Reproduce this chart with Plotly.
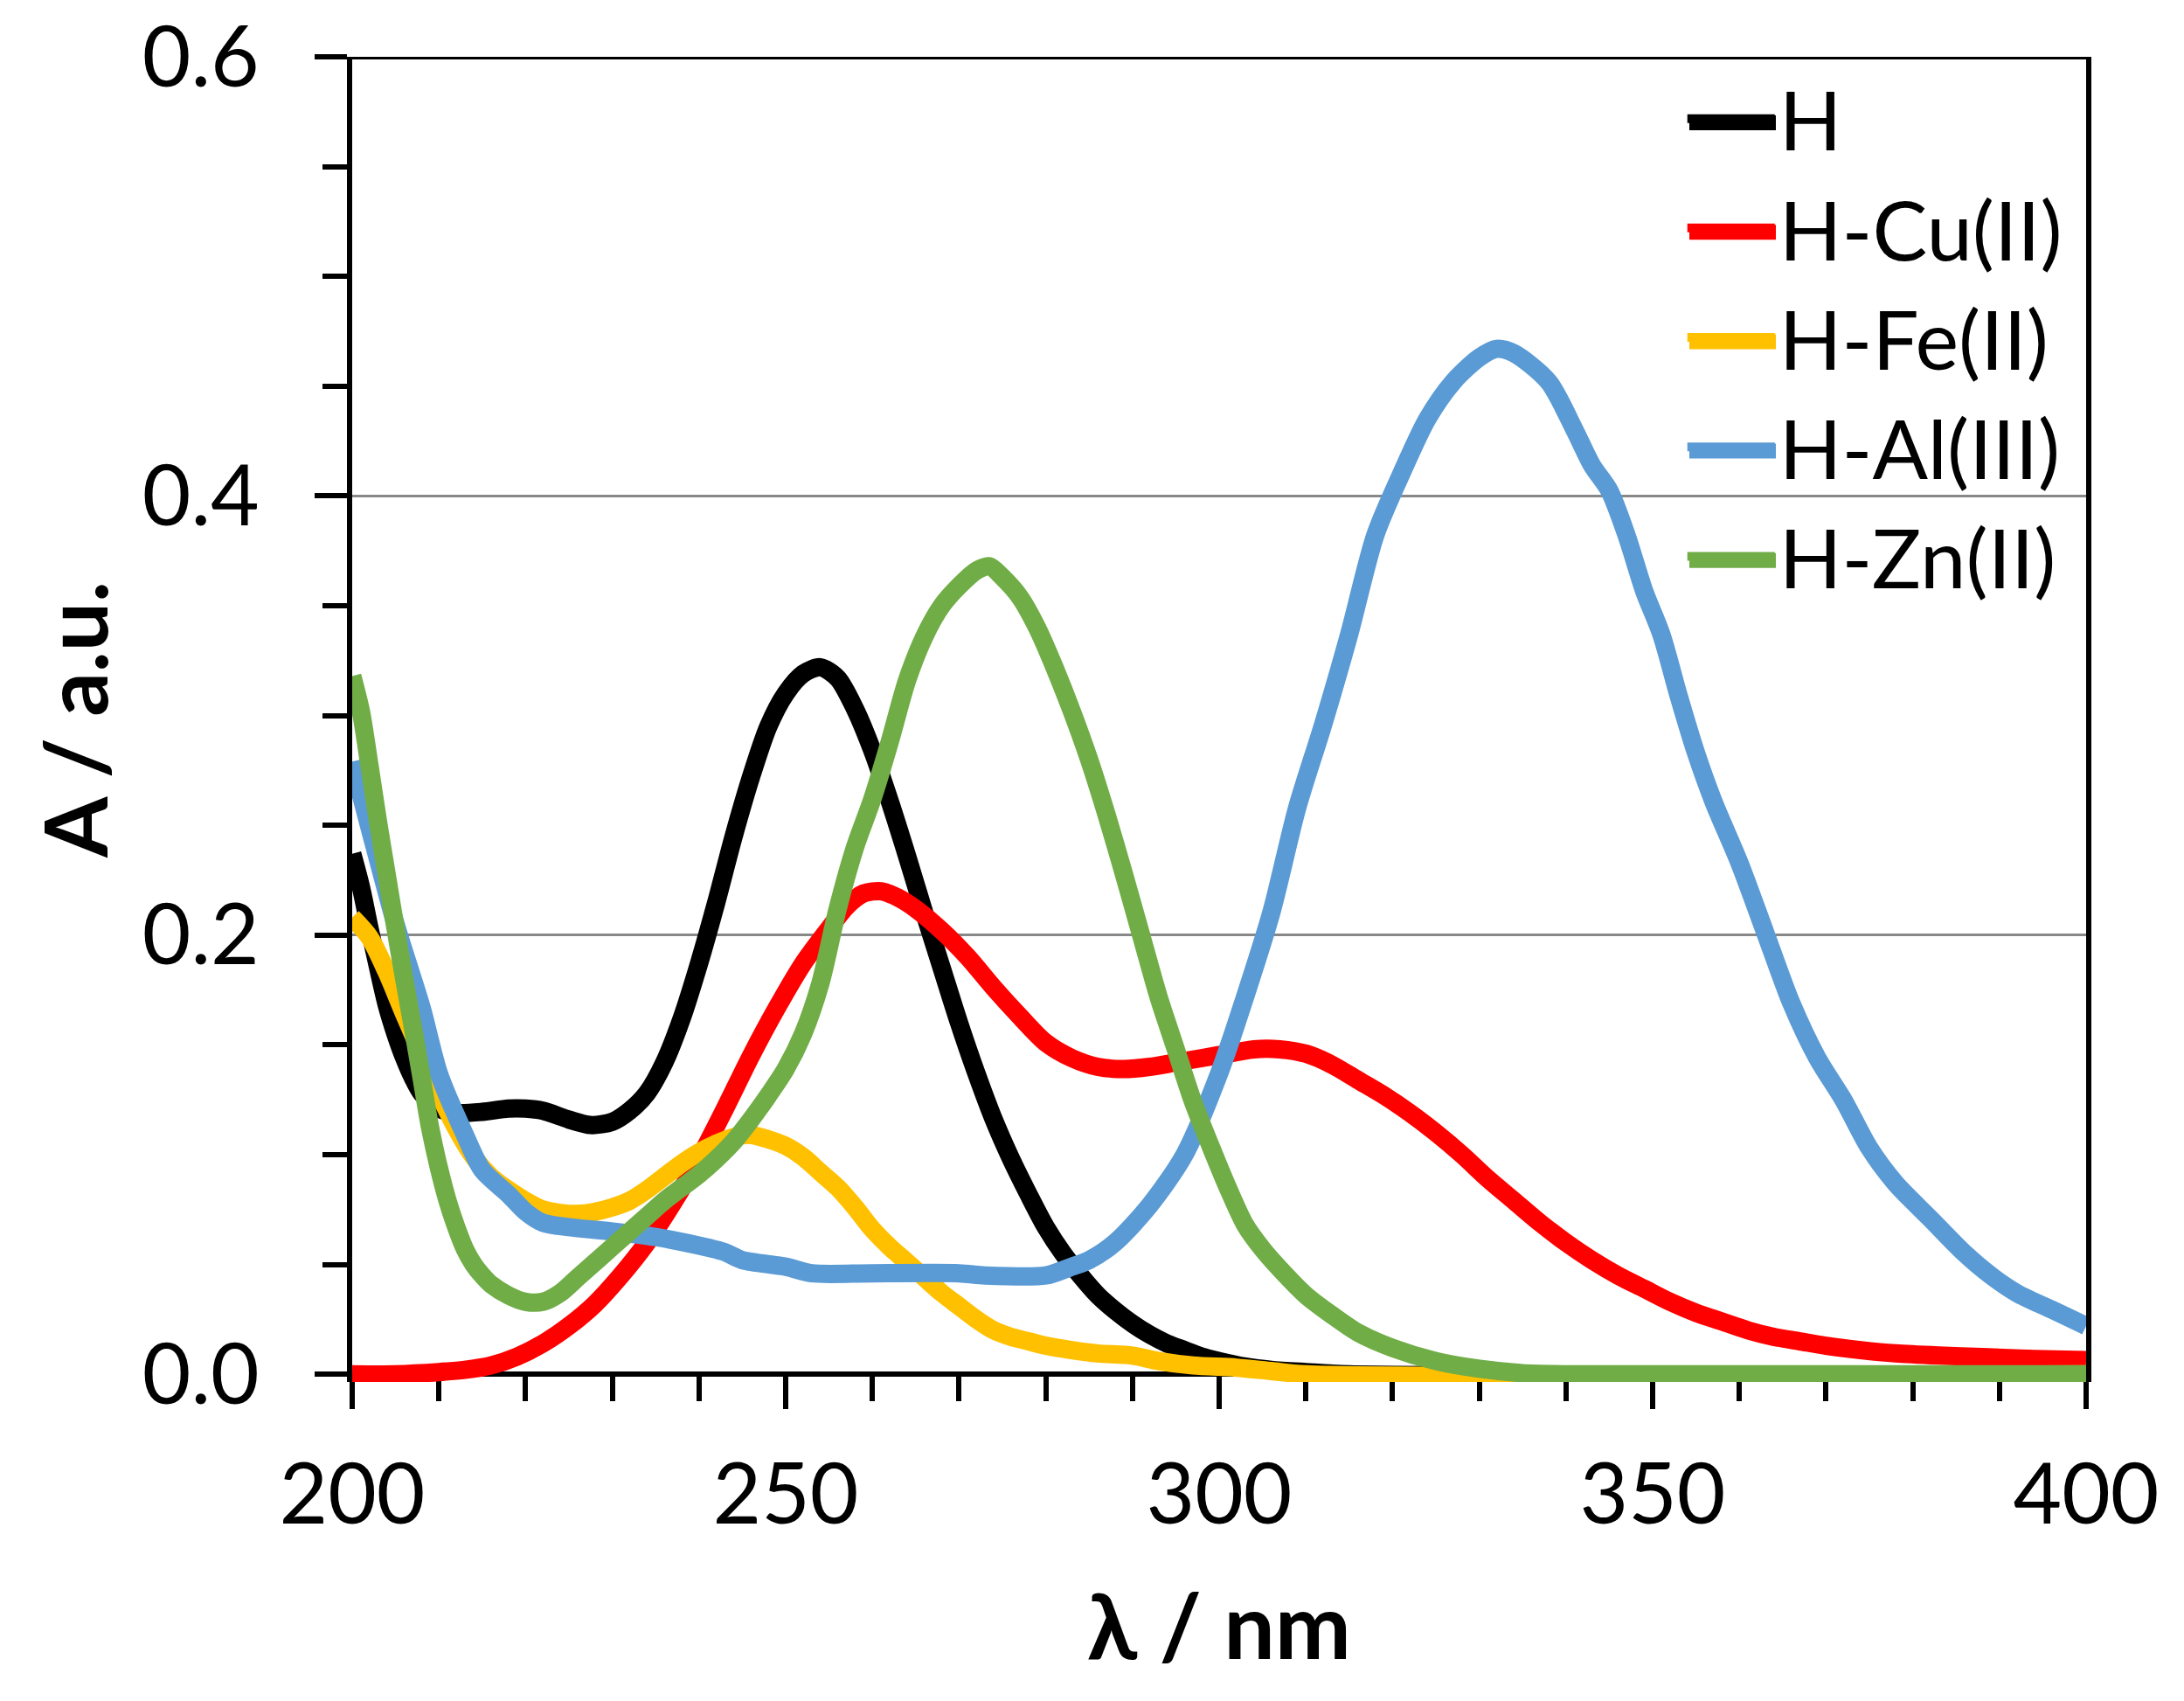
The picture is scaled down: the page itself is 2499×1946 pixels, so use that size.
import plotly.graph_objects as go

# ---------------- data ----------------
h_x = [200, 201, 202, 203, 204, 205, 206, 207, 208, 210, 212, 215, 218, 220, 222, 225, 227.5, 230, 232, 234, 236, 238,
       240, 242, 244, 246, 248, 250, 252, 254, 256, 258, 260, 262, 264, 266, 268, 270, 272, 274, 276, 278, 280, 282,
       284, 286, 288, 290, 292, 294, 296, 298, 300, 303, 306, 310, 315, 400]
h_y = [0.237, 0.222, 0.203, 0.185, 0.168, 0.155, 0.144, 0.135, 0.128, 0.121, 0.119, 0.1195, 0.121, 0.121, 0.12, 0.116,
       0.1135, 0.115, 0.12, 0.128, 0.142, 0.162, 0.187, 0.215, 0.245, 0.272, 0.295, 0.31, 0.319, 0.322, 0.317, 0.303,
       0.284, 0.261, 0.236, 0.21, 0.185, 0.16, 0.137, 0.116, 0.098, 0.082, 0.067, 0.055, 0.045, 0.036, 0.029, 0.023,
       0.018, 0.014, 0.011, 0.008, 0.006, 0.0035, 0.002, 0.001, 0, 0]

cu_x = [200, 205, 210, 213, 216, 219, 222, 225, 228, 231, 234, 237, 240, 243, 246, 249, 252, 255, 257, 259, 261, 263,
        265, 268, 271, 274, 277, 280, 283, 286, 289, 292, 295, 298, 301, 304, 307, 310, 313, 316, 319, 322, 325, 328,
        331, 334, 337, 340, 343, 346, 349, 352, 355, 358, 361, 364, 367, 370, 374, 378, 383, 388, 394, 400]
cu_y = [0, 0, 0.001, 0.002, 0.004, 0.008, 0.014, 0.022, 0.032, 0.045, 0.06, 0.078, 0.098, 0.121, 0.145, 0.167, 0.187,
        0.203, 0.213, 0.219, 0.22, 0.217, 0.212, 0.202, 0.19, 0.176, 0.163, 0.151, 0.144, 0.14, 0.139, 0.14, 0.142,
        0.144, 0.146, 0.148, 0.148, 0.146, 0.141, 0.134, 0.127, 0.119, 0.11, 0.1, 0.089, 0.079, 0.069, 0.06, 0.052,
        0.045, 0.039, 0.033, 0.028, 0.024, 0.02, 0.017, 0.015, 0.013, 0.011, 0.0095, 0.0085, 0.0078, 0.007, 0.0065]

fe_x = [200, 202, 204, 206, 208, 210, 212, 214, 216, 218, 220, 222, 224, 226, 228, 230, 232, 234, 236, 238, 240, 242,
        244, 246, 248, 250, 252, 254, 256, 258, 260, 262, 264, 266, 268, 270, 272, 274, 276, 278, 280, 283, 286, 290,
        293, 297, 302, 306, 310, 400]
fe_y = [0.208, 0.199, 0.183, 0.164, 0.146, 0.128, 0.112, 0.099, 0.09, 0.084, 0.079, 0.075, 0.0735, 0.073, 0.074, 0.076,
        0.079, 0.084, 0.09, 0.096, 0.101, 0.105, 0.108, 0.109, 0.107, 0.104, 0.099, 0.092, 0.085, 0.076, 0.066, 0.058,
        0.051, 0.044, 0.037, 0.031, 0.025, 0.02, 0.017, 0.015, 0.013, 0.011, 0.0095, 0.0085, 0.006, 0.004, 0.003,
        0.0015, 0, 0]

al_x = [200, 202, 205, 208, 210, 213, 215, 218, 220, 222, 225, 230, 235, 240, 243, 245, 250, 253, 260, 270, 273, 280,
        283, 285, 288, 292, 296, 300, 303, 306, 309, 312, 315, 318, 321, 324, 327, 330, 332, 334, 338, 341, 343, 345,
        347, 349, 351, 353, 355, 357, 360, 363, 366, 369, 372, 375, 378, 382, 386, 389, 392, 396, 400]
al_y = [0.279, 0.249, 0.205, 0.167, 0.137, 0.109, 0.093, 0.082, 0.074, 0.069, 0.067, 0.065, 0.0625, 0.0586, 0.0556,
        0.052, 0.049, 0.046, 0.046, 0.046, 0.045, 0.045, 0.049, 0.052, 0.06, 0.077, 0.1, 0.137, 0.172, 0.21, 0.258,
        0.296, 0.337, 0.382, 0.41, 0.435, 0.452, 0.463, 0.467, 0.465, 0.452, 0.43, 0.414, 0.4025, 0.382, 0.357, 0.337,
        0.309, 0.283, 0.261, 0.233, 0.201, 0.169, 0.144, 0.125, 0.103, 0.087, 0.071, 0.055, 0.045, 0.037, 0.0295, 0.022]

zn_x = [200, 201, 202, 203, 204, 205, 206, 207, 208, 209, 210, 211, 212, 213, 214, 215, 216, 218, 220, 222, 224, 226,
        228, 230, 232, 234, 236, 238, 240, 242, 244, 246, 248, 250, 252, 254, 256, 258, 260, 262, 264, 266, 268, 270,
        272, 273.5, 275, 277, 279, 281, 283, 285, 287, 289, 291, 293, 295, 297, 299, 301, 303, 305, 307, 310, 313,
        316, 320, 325, 330, 335, 340, 400]
zn_y = [0.318, 0.302, 0.277, 0.251, 0.227, 0.203, 0.18, 0.158, 0.135, 0.112, 0.094, 0.079, 0.067, 0.057, 0.05, 0.045,
        0.041, 0.036, 0.033, 0.033, 0.037, 0.044, 0.051, 0.058, 0.065, 0.072, 0.079, 0.085, 0.091, 0.098, 0.106, 0.116,
        0.127, 0.139, 0.155, 0.178, 0.212, 0.24, 0.262, 0.288, 0.316, 0.336, 0.35, 0.359, 0.366, 0.368, 0.363, 0.354,
        0.34, 0.322, 0.302, 0.28, 0.255, 0.228, 0.2, 0.172, 0.148, 0.124, 0.104, 0.085, 0.068, 0.057, 0.048, 0.036,
        0.027, 0.019, 0.012, 0.006, 0.0025, 0.0005, 0, 0]

series_names = ["H", "H-Cu(II)", "H-Fe(II)", "H-Al(III)", "H-Zn(II)"]
series_colors = ["#000000", "#FF0000", "#FFC000", "#5B9BD5", "#70AD47"]

x_tickvals = [200, 250, 300, 350, 400]
y_tickvals = [0.0, 0.2, 0.4, 0.6]
y_ticktext = ["0.0", "0.2", "0.4", "0.6"]

# ---------------- figure ----------------
FONT = "Lato"
Y_LO, Y_HI = -0.0035, 0.6
FIG_W, FIG_H = 2491, 1938
M_L, M_R, M_T, M_B = 395, 112, 57, 365
PLOT_W = FIG_W - M_L - M_R
PLOT_H = FIG_H - M_T - M_B

fig = go.Figure()
for xs, ys, name, col in zip([h_x, cu_x, fe_x, al_x, zn_x], [h_y, cu_y, fe_y, al_y, zn_y],
                             series_names, series_colors):
    fig.add_trace(go.Scatter(x=xs, y=ys, mode="lines", name=name,
                             line=dict(color=col, width=21, shape="spline", smoothing=0.8)))

x_pos = (0 - Y_LO) / (Y_HI - Y_LO)

# legend geometry (pixels in figure space) -> paper coordinates
LEG_FONT = 94
LEG_X0_PX, LEG_X1_PX = 1925, 2024          # legend key line extent
LEG_ROW0_PX, LEG_ROW_STEP = 132.5, 125.2   # row centre of first entry, row pitch


def px_to_paper_x(px):
    return (px - M_L) / PLOT_W


def px_to_paper_y(py):
    return (FIG_H - M_B - py) / PLOT_H


shapes = [
    # white legend background (hides the gridline behind the legend)
    dict(type="rect", xref="paper", yref="paper", x0=px_to_paper_x(1916), x1=1 - 4 / PLOT_W,
         y0=px_to_paper_y(690), y1=1 - 4 / PLOT_H, fillcolor="white", line=dict(width=0), layer="between"),
    # top frame line
    dict(type="line", xref="x domain", x0=0, x1=1, yref="y", y0=Y_HI, y1=Y_HI,
         line=dict(color="black", width=6), layer="above"),
]
for i, col in enumerate(series_colors):
    yk = px_to_paper_y(LEG_ROW0_PX + i * LEG_ROW_STEP)
    shapes.append(dict(type="line", xref="paper", yref="paper",
                       x0=px_to_paper_x(LEG_X0_PX), x1=px_to_paper_x(LEG_X1_PX), y0=yk, y1=yk,
                       line=dict(color=col, width=17), layer="above"))

fig.update_layout(
    width=FIG_W, height=FIG_H,
    margin=dict(l=M_L, r=M_R, t=M_T, b=M_B, autoexpand=False),
    paper_bgcolor="white", plot_bgcolor="white",
    font=dict(family=FONT, color="black", size=96),
    showlegend=True,
    legend=dict(x=0.7675, y=0.998, xanchor="left", yanchor="top",
                bgcolor="rgba(0,0,0,0)", borderwidth=0, itemwidth=100,
                font=dict(family=FONT, size=LEG_FONT), tracegroupgap=0),
    xaxis=dict(range=[200, 400], anchor="free", position=x_pos, automargin=False,
               tickmode="array", tickvals=x_tickvals,
               ticks="outside", ticklen=37, tickwidth=6, tickcolor="black",
               minor=dict(dtick=10, ticks="outside", ticklen=28, tickwidth=6, tickcolor="black", showgrid=False),
               showline=True, linecolor="black", linewidth=6, showgrid=False, zeroline=False,
               tickfont=dict(family=FONT, size=96), ticklabelstandoff=16, ticklabeloverflow="allow",
               title=dict(text="<b>λ / nm</b>", font=dict(family=FONT, size=104), standoff=62),
               layer="below traces"),
    yaxis=dict(range=[Y_LO, Y_HI], automargin=False, tickmode="array", tickvals=y_tickvals, ticktext=y_ticktext,
               ticks="outside", ticklen=37, tickwidth=6, tickcolor="black",
               minor=dict(dtick=0.05, tick0=0, ticks="outside", ticklen=28, tickwidth=6, tickcolor="black",
                          showgrid=False),
               showline=True, linecolor="black", linewidth=6, mirror=True,
               showgrid=True, gridcolor="#888888", gridwidth=3, zeroline=False,
               tickfont=dict(family=FONT, size=96), ticklabelstandoff=44, ticklabeloverflow="allow",
               title=dict(text="<b>A / a.u.</b>", font=dict(family=FONT, size=100), standoff=8),
               layer="below traces"),
    shapes=shapes,
)

fig.write_html("out.html")
